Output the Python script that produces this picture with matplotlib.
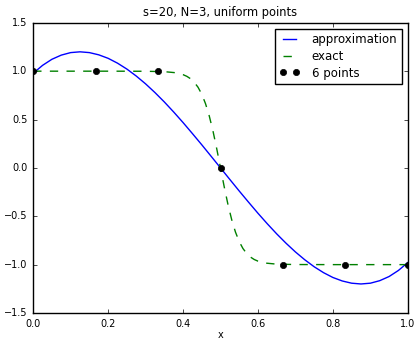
import matplotlib
matplotlib.use('Agg')
import matplotlib.pyplot as plt

# approximation (blue)
x_approx = [0.0, 0.025, 0.05, 0.075, 0.1, 0.125, 0.15, 0.175, 0.2, 0.225, 0.25, 0.275,
            0.3, 0.325, 0.35, 0.375, 0.4, 0.425, 0.45, 0.475, 0.5,
            0.525, 0.55, 0.575, 0.6, 0.625, 0.65, 0.675, 0.7, 0.725, 0.75,
            0.775, 0.8, 0.825, 0.85, 0.875, 0.9, 0.925, 0.95, 0.975, 1.0]
y_approx = [0.978, 1.060, 1.123, 1.166, 1.192, 1.200, 1.192, 1.169, 1.133, 1.083, 1.022, 0.950,
            0.869, 0.779, 0.682, 0.578, 0.469, 0.355, 0.239, 0.120, 0.0,
            -0.120, -0.239, -0.355, -0.469, -0.578, -0.682, -0.779, -0.869, -0.950, -1.022,
            -1.083, -1.133, -1.169, -1.192, -1.200, -1.192, -1.166, -1.123, -1.060, -0.978]

# exact (green dashed)
x_exact = [0.0, 0.2, 0.3, 0.35, 0.38, 0.4, 0.41, 0.42, 0.43, 0.44, 0.45, 0.46, 0.47, 0.48, 0.49, 0.5,
           0.51, 0.52, 0.53, 0.54, 0.55, 0.56, 0.57, 0.58, 0.59, 0.6, 0.62, 0.65, 0.7, 0.8, 1.0]
y_exact = [1.0, 1.0, 0.999, 0.995, 0.984, 0.964, 0.947, 0.922, 0.885, 0.834, 0.762, 0.664, 0.537, 0.380, 0.197, 0.0,
           -0.197, -0.380, -0.537, -0.664, -0.762, -0.834, -0.885, -0.922, -0.947, -0.964, -0.984, -0.995, -0.999, -1.0, -1.0]

# sample points
x_pts = [0.0, 1/6, 2/6, 0.5, 4/6, 5/6, 1.0]
y_pts = [1.0, 1.0, 1.0, 0.0, -1.0, -1.0, -1.0]

plt.style.use('classic')
fig = plt.figure(figsize=(4.2, 3.43), dpi=100, facecolor='white')
ax = fig.add_axes([0.079, 0.0875, 0.892, 0.846])

ax.plot(x_approx, y_approx, 'b-', lw=1, label='approximation')
ax.plot(x_exact, y_exact, 'g--', lw=1, label='exact')
ax.plot(x_pts, y_pts, 'ko', markersize=4.5, label='6 points')

ax.set_xlim(0, 1)
ax.set_ylim(-1.5, 1.5)
ax.set_xlabel('x', fontsize=7, labelpad=1)
ax.set_title('s=20, N=3, uniform points', fontsize=8.3)
ax.tick_params(labelsize=7, length=3)
ax.legend(loc='upper right', fontsize=8.5, numpoints=2, handlelength=1.7,
          handletextpad=1.0, labelspacing=0.3, borderpad=0.4)

fig.savefig('out.png', dpi=100, facecolor='white')
